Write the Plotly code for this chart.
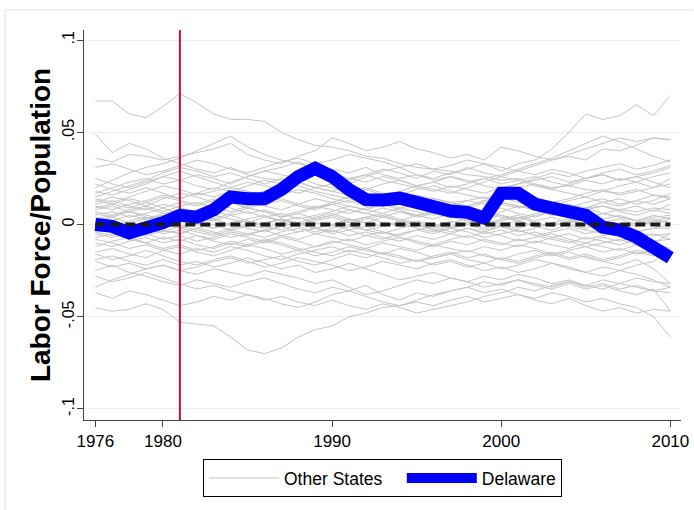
import plotly.graph_objects as go

years = list(range(1976, 2011))
treat_year = 1981

# Delaware series (labor force / population, deviation)
delaware = [0.000, -0.001, -0.0045, -0.002, 0.001,
            0.005, 0.004, 0.008, 0.015, 0.014,
            0.014, 0.019, 0.026, 0.0305, 0.026,
            0.019, 0.0135, 0.0133, 0.0143, 0.012,
            0.009, 0.0073, 0.0066, 0.0035, 0.017,
            0.017, 0.011, 0.0084, 0.0062, 0.005,
            -0.0014, -0.003, -0.0068, -0.012, -0.018]

# Other states (values in thousandths)
s01 = [67,67,60,58,64,  71,66,60,57,57,  56,50,46,43,42,  40,37,36,33,31,  30,29,27,26,24,  25,22,20,21,19,  18,17,19,16,15]
s02 = [49,39,44,41,36,  33,30,28,31,27,  25,24,26,22,20,  18,20,17,15,16,  14,12,13,11,12,  10,9,11,8,9,  10,8,7,9,8]
s03 = [20,24,28,31,33,  36,40,44,48,42,  38,35,33,31,30,  28,31,27,25,27,  24,26,23,25,22,  24,26,23,21,24,  22,25,23,26,28]
s04 = [36,34,38,37,35,  37,39,41,44,38,  35,33,37,40,47,  44,40,42,45,41,  39,36,38,35,42,  40,37,35,38,41,  44,47,45,47,46]
s05 = [25,22,20,23,26,  24,21,19,23,26,  29,27,25,28,24,  22,26,29,31,27,  25,28,30,33,29,  33,35,41,50,60,  57,59,65,59,70]
s06 = [31,33,30,27,29,  32,35,33,30,28,  31,34,36,33,35,  38,36,34,31,33,  30,32,35,33,31,  29,32,35,37,35,  41,40,43,47,46]
s07 = [17,20,23,25,22,  24,27,25,22,26,  29,31,34,30,28,  25,23,26,24,21,  23,20,22,25,27,  30,33,36,40,44,  48,45,41,37,34]
s08 = [14,12,15,18,21,  19,16,18,20,23,  21,19,17,20,22,  25,27,24,22,20,  18,21,19,17,20,  22,24,26,23,25,  28,30,27,29,32]
s09 = [12,15,13,10,14,  17,15,12,14,16,  18,21,23,20,18,  16,19,22,24,21,  19,17,20,23,26,  24,21,19,22,25,  27,24,26,28,31]
s10 = [10,8,11,13,16,  14,17,20,18,15,  13,16,19,17,14,  12,15,13,16,19,  21,18,16,14,17,  20,22,19,17,15,  18,21,23,20,22]
s11 = [9,11,14,12,9,  12,10,13,15,12,  10,8,11,14,12,  15,17,14,12,10,  13,11,9,12,14,  17,15,12,14,17,  19,16,18,20,25]
s12 = [7,5,8,10,7,  10,12,9,7,10,  12,14,11,9,12,  10,8,11,13,11,  8,10,13,15,12,  10,8,11,9,12,  14,11,13,16,14]
s13 = [5,7,4,6,9,  6,8,11,9,6,  8,5,7,10,8,  6,9,11,8,5,  7,9,6,4,7,  10,8,5,7,9,  6,8,10,7,11]
s14 = [4,2,5,3,6,  8,5,3,6,9,  7,4,6,3,5,  8,6,4,7,5,  3,6,9,7,4,  2,5,7,4,6,  3,5,2,4,5]
s15 = [2,4,1,3,5,  2,4,7,5,2,  0,3,1,4,6,  3,1,4,2,5,  7,4,2,0,3,  5,2,4,1,3,  6,4,2,0,3]
s16 = [1,-1,2,4,1,  3,0,-2,1,3,  5,2,4,1,-1,  2,4,6,3,1,  -1,2,0,3,5,  2,-1,1,3,0,  2,-1,1,3,1]
s17 = [0,2,-1,-3,0,  -2,1,3,0,-2,  -4,-1,1,-2,0,  3,1,-1,2,0,  -3,-1,1,-2,0,  2,-1,-3,0,-2,  1,-1,-4,-2,-2]
s18 = [-1,-3,0,-2,-4,  -1,-3,-5,-2,0,  -2,1,-1,-4,-2,  0,-3,-1,1,-2,  -4,-2,0,-3,-1,  -4,-2,1,-1,-3,  -5,-2,-4,-6,-5]
s19 = [-3,-1,-4,-6,-3,  -5,-2,-4,-7,-5,  -3,-6,-4,-2,-5,  -3,-6,-8,-5,-3,  -1,-4,-2,-5,-3,  -6,-4,-7,-5,-8,  -6,-4,-7,-5,-8]
s20 = [-5,-7,-4,-2,-5,  -3,-6,-8,-5,-7,  -9,-6,-8,-5,-3,  -6,-4,-7,-9,-6,  -8,-5,-7,-4,-6,  -9,-7,-5,-8,-10,  -7,-9,-6,-10,-13]
s21 = [-7,-5,-8,-10,-7,  -9,-6,-9,-11,-8,  -10,-7,-9,-12,-10,  -8,-11,-9,-7,-10,  -12,-9,-11,-8,-10,  -12,-9,-11,-13,-10,  -12,-14,-11,-13,-15]
s22 = [-10,-12,-9,-7,-10,  -8,-11,-13,-10,-12,  -9,-11,-14,-12,-9,  -11,-13,-10,-12,-14,  -11,-13,-15,-12,-14,  -11,-13,-16,-14,-12,  -15,-13,-16,-14,-16]
s23 = [-15,-13,-16,-18,-14,  -12,-15,-17,-14,-11,  -13,-16,-14,-17,-15,  -12,-14,-16,-13,-15,  -18,-16,-14,-17,-19,  -16,-14,-17,-15,-18,  -20,-22,-19,-24,-32]
s24 = [-16,-19,-17,-14,-17,  -20,-22,-19,-17,-20,  -23,-21,-18,-20,-22,  -25,-23,-20,-22,-24,  -21,-19,-22,-25,-23,  -26,-24,-21,-23,-26,  -28,-25,-27,-30,-34]
s25 = [-19,-17,-20,-22,-19,  -22,-20,-23,-21,-18,  -21,-24,-22,-26,-24,  -21,-24,-27,-30,-28,  -26,-29,-31,-28,-30,  -27,-29,-32,-30,-33,  -35,-32,-34,-36,-37]
s26 = [-20,-23,-21,-24,-22,  -25,-27,-24,-26,-28,  -25,-27,-29,-32,-30,  -34,-38,-36,-33,-30,  -32,-29,-31,-34,-32,  -30,-33,-35,-32,-35,  -33,-36,-38,-35,-47]
s27 = [-25,-22,-26,-28,-31,  -33,-30,-32,-34,-31,  -29,-32,-35,-37,-34,  -36,-33,-38,-41,-37,  -39,-36,-34,-37,-35,  -38,-40,-37,-39,-42,  -40,-43,-45,-50,-61]
s28 = [-34,-30,-27,-24,-22,  -25,-23,-20,-18,-21,  -19,-17,-20,-22,-19,  -16,-18,-15,-17,-20,  -18,-16,-19,-21,-18,  -20,-17,-15,-18,-16,  -19,-17,-14,-16,-15]
s29 = [-37,-40,-36,-38,-41,  -44,-42,-39,-41,-38,  -40,-43,-45,-42,-38,  -36,-39,-42,-44,-41,  -38,-36,-34,-31,-33,  -30,-32,-34,-31,-33,  -30,-32,-29,-31,-32]
s30 = [-45,-47,-46,-43,-46,  -53,-54,-55,-61,-68,  -70,-67,-61,-57,-55,  -50,-48,-45,-44,-42,  -44,-41,-39,-42,-40,  -38,-41,-43,-40,-44,  -47,-45,-48,-46,-47]
s31 = [13,11,9,12,15,  13,11,14,12,9,  11,13,10,8,11,  13,10,12,9,11,  14,12,10,13,11,  9,12,10,13,15,  12,14,11,13,17]
s32 = [11,13,10,8,11,  9,7,10,12,9,  7,4,6,9,11,  8,6,9,7,4,  6,8,5,7,9,  6,4,7,5,8,  10,7,5,8,6]
s33 = [8,10,7,5,3,  6,4,2,5,7,  4,2,0,3,5,  2,4,1,-1,2,  0,-2,1,3,0,  -2,1,-1,2,4,  1,3,0,2,4]
s34 = [3,5,7,4,2,  -1,1,-2,0,2,  -1,-3,0,-2,-4,  -1,-3,-5,-2,0,  -3,-5,-2,-4,-1,  -3,-6,-4,-2,-5,  -3,-1,-4,-2,0]
s35 = [-2,0,-3,-1,1,  -2,-4,-6,-3,-5,  -7,-4,-2,-5,-7,  -9,-6,-4,-7,-9,  -11,-8,-6,-9,-11,  -8,-10,-7,-9,-12,  -10,-8,-11,-9,-8]
s36 = [0,-2,1,-1,-3,  -5,-2,0,-3,-1,  1,3,0,2,4,  1,3,5,2,0,  -2,1,3,0,2,  4,1,-1,2,0,  -2,1,-1,2,1]
s37 = [6,4,7,9,6,  4,2,5,3,1,  4,6,3,5,7,  10,8,6,9,7,  5,8,10,7,5,  3,6,8,5,3,  6,4,2,5,3]
s38 = [18,16,19,22,26,  29,26,23,20,18,  16,19,21,18,16,  14,12,15,13,11,  14,12,10,13,15,  12,10,8,11,9,  12,10,13,11,14]
s39 = [-8,-10,-13,-11,-14,  -16,-13,-15,-12,-14,  -17,-19,-16,-14,-12,  -15,-13,-16,-18,-20,  -17,-15,-18,-16,-19,  -21,-18,-16,-19,-17,  -20,-18,-15,-17,-16]
s40 = [-12,-9,-7,-10,-13,  -11,-14,-12,-9,-11,  -8,-10,-13,-15,-17,  -14,-16,-18,-21,-19,  -22,-20,-23,-21,-24,  -22,-19,-21,-24,-26,  -23,-25,-22,-20,-13]
s41 = [15,18,21,24,28,  31,29,26,28,25,  22,25,23,20,18,  21,19,16,18,21,  23,26,24,21,19,  22,25,28,26,29,  31,33,30,32,35]
s42 = [-4,-6,-3,-5,-8,  -6,-9,-7,-4,-6,  -3,-1,-4,-2,0,  -3,-1,-4,-6,-3,  -5,-2,-4,-7,-5,  -3,-6,-8,-10,-7,  -9,-11,-8,-10,-5]
s43 = [22,19,17,20,17,  14,17,15,18,21,  24,22,26,29,27,  24,27,30,28,25,  29,27,31,28,26,  29,27,30,28,25,  27,24,26,23,20]
s44 = [-28,-31,-29,-26,-29,  -32,-35,-33,-36,-38,  -41,-39,-42,-44,-41,  -44,-46,-43,-45,-48,  -46,-44,-42,-39,-37,  -34,-36,-33,-31,-34,  -32,-35,-33,-36,-34]

other_states = [s01, s02, s03, s04, s05, s06, s07, s08, s09, s10, s11, s12, s13, s14, s15,
                s16, s17, s18, s19, s20, s21, s22, s23, s24, s25, s26, s27, s28, s29, s30,
                s31, s32, s33, s34, s35, s36, s37, s38, s39, s40, s41, s42, s43, s44]

y_tick_vals = [-0.1, -0.05, 0, 0.05, 0.1]
y_tick_text = ["-.1", "-.05", "0", ".05", ".1"]
x_tick_vals = [1976, 1980, 1990, 2000, 2010]
y_range = [-0.106, 0.1055]

FONT = "Liberation Sans, Arial, sans-serif"
fig = go.Figure()

for i, s in enumerate(other_states):
    fig.add_trace(go.Scatter(
        x=years, y=[v / 1000 for v in s], mode="lines",
        line=dict(color="#c4c4c4", width=1),
        name="Other States&nbsp;&nbsp;&nbsp;", legendgroup="other",
        showlegend=(i == 0), hoverinfo="skip"))

# treatment year marker
fig.add_trace(go.Scatter(
    x=[treat_year, treat_year], y=y_range, mode="lines",
    line=dict(color="#c8103c", width=2), showlegend=False, hoverinfo="skip"))

fig.add_trace(go.Scatter(
    x=years, y=delaware, mode="lines",
    line=dict(color="#0000ff", width=13),
    name="Delaware"))

# zero reference
fig.add_trace(go.Scatter(
    x=[years[0], years[-1]], y=[0, 0], mode="lines",
    line=dict(color="#1a1a1a", width=4, dash="10px,5px"),
    showlegend=False, hoverinfo="skip"))

fig.update_layout(
    width=694, height=510,
    margin=dict(l=84, r=13, t=30, b=90, autoexpand=False),
    paper_bgcolor="white", plot_bgcolor="white",
    font=dict(family=FONT, color="black"),
    showlegend=True,
    legend=dict(orientation="h", x=0.5, xanchor="center", y=-0.1, yanchor="top",
                bordercolor="black", borderwidth=1, bgcolor="white",
                font=dict(size=17.5, family=FONT), itemwidth=70,
                traceorder="normal"),
    shapes=[
        dict(type="line", xref="paper", yref="paper", x0=-0.1324, x1=1.2, y0=1.0513, y1=1.0513,
             line=dict(color="#e6edf1", width=1.5)),
        dict(type="line", xref="paper", yref="paper", x0=-0.1324, x1=-0.1324, y0=1.0513, y1=-0.4,
             line=dict(color="#e6edf1", width=1.5)),
    ],
)

fig.update_xaxes(
    range=[1975.33, 2010.63], tickvals=x_tick_vals, automargin=False,
    showgrid=False, zeroline=False,
    showline=True, linecolor="#444444", linewidth=1,
    ticks="outside", ticklen=6, tickcolor="#444444",
    tickfont=dict(size=17, family=FONT))

fig.update_yaxes(
    range=y_range, tickvals=y_tick_vals, ticktext=y_tick_text, tickangle=-90,
    automargin=False, ticklabelstandoff=-3,
    showgrid=True, gridcolor="#e8f0f2", gridwidth=1, zeroline=False,
    showline=True, linecolor="#444444", linewidth=1,
    ticks="outside", ticklen=6, tickcolor="#444444",
    tickfont=dict(size=16, family=FONT),
    title=dict(text="<b>Labor Force/Population</b>", font=dict(size=28, family=FONT), standoff=0))

fig.write_html("out.html", config={"displayModeBar": False},
               post_script="document.body.style.margin='0';")
